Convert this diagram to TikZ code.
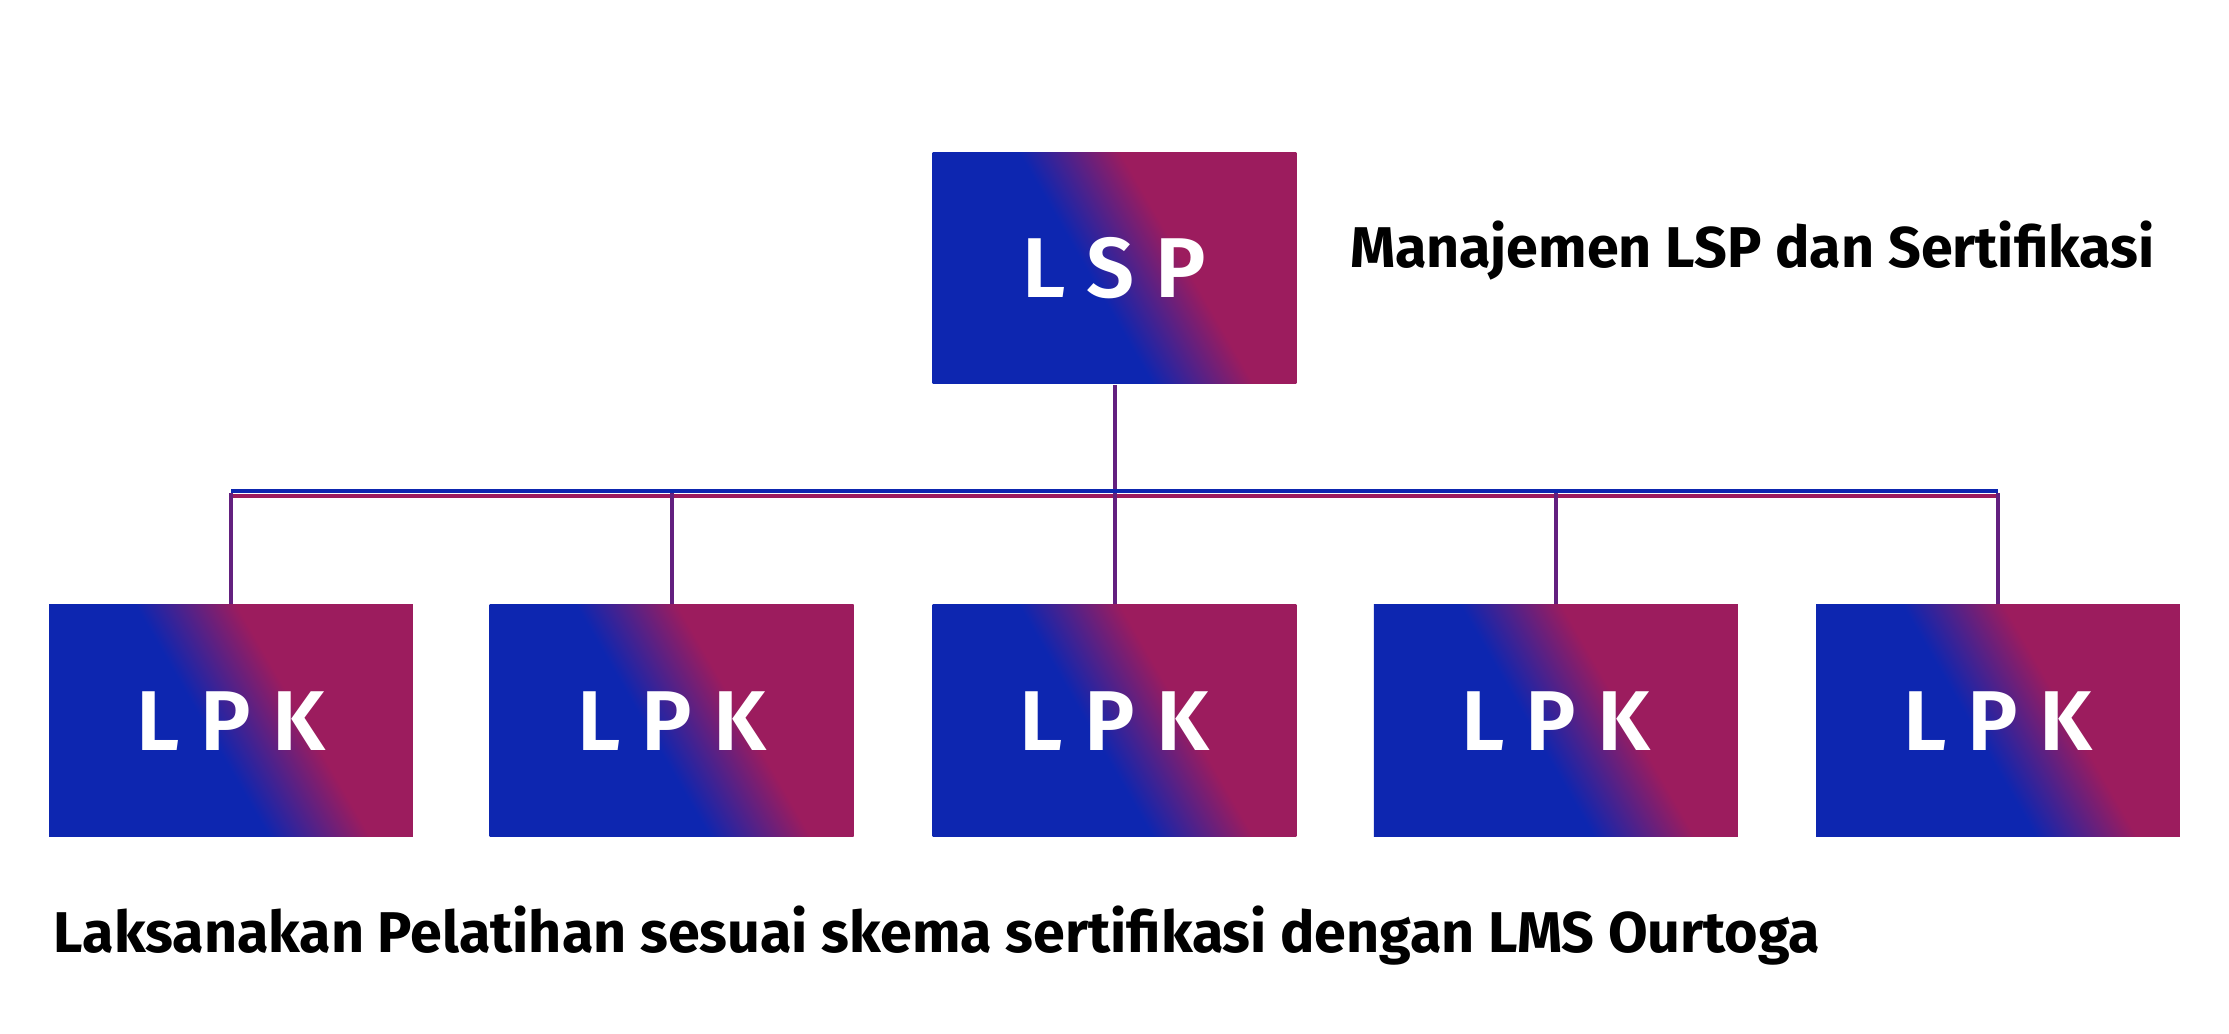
\documentclass[tikz,border=0pt]{standalone}
\usepackage{fontspec}
\setmainfont{Fira Sans}
\newfontfamily\boxfont[LetterSpace=25]{Fira Sans SemiBold}
\definecolor{lspblue}{HTML}{0D26B0}
\definecolor{lspred}{HTML}{9C1C5E}
\pgfdeclarehorizontalshading{lspshade}{100bp}{color(0bp)=(lspblue); color(46bp)=(lspblue); color(60bp)=(lspred); color(100bp)=(lspred)}
\tikzset{
  orgbox/.style={minimum width=2.56cm, minimum height=1.63cm, inner sep=0pt,
    shading=lspshade, shading angle=30, text=white, font=\boxfont\fontsize{17}{20}\selectfont},
  caption/.style={anchor=west, inner sep=0pt, font=\bfseries\fontsize{11.5}{14}\selectfont},
  link/.style={line width=0.8pt, color=lspred!60!lspblue}
}
\begin{document}
\begin{tikzpicture}
    \useasboundingbox (0,0) rectangle (15.68,-7.27);
    \node [orgbox] (lsp) at (7.84,-1.885) {LSP};
    \node [caption] (cap1) at (9.49,-1.76) {Manajemen LSP dan Sertifikasi};
    \coordinate (bus) at (7.84,-3.47);
    \foreach \i/\x in {1/1.625,2/4.725,3/7.84,4/10.945,5/14.055}{
      \node [orgbox] (lpk\i) at (\x,-5.07) {LPK};
      \coordinate (top\i) at (\x,-3.47);
    }
    \draw [link] (lsp.south) -- (bus);
    \draw [link, color=lspblue] ([yshift=0.5pt]top1) -- ([yshift=0.5pt]top5);
    \draw [link, color=lspred] ([yshift=-0.5pt]top1) -- ([yshift=-0.5pt]top5);
    \foreach \i in {1,...,5}
      \draw [link] (top\i) -- (lpk\i.north);
    \node [caption] (cap2) at (0.37,-6.58) {Laksanakan Pelatihan sesuai skema sertifikasi dengan LMS Ourtoga};
\end{tikzpicture}
\end{document}
